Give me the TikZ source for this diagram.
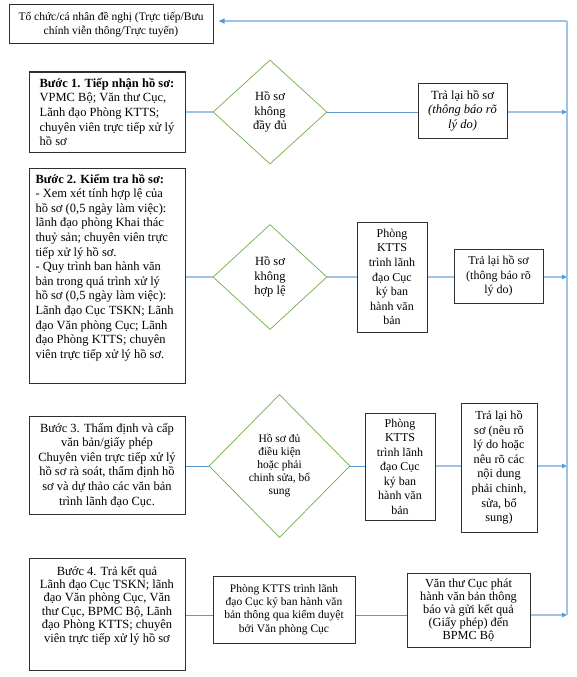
\documentclass[tikz,border=0pt]{standalone}
\usepackage{fontspec}
\setmainfont{Liberation Serif}
\usetikzlibrary{shapes.geometric,arrows.meta}
\definecolor{lblue}{HTML}{9DC3E6}
\definecolor{mblue}{HTML}{5B9BD5}
\definecolor{dgreen}{HTML}{70AD47}
\definecolor{bord}{HTML}{303030}
\newcommand{\mytopbox}[3]{\parbox[c][#1][t]{#2}{#3}}
\tikzset{
  box/.style={draw=bord, line width=1pt, fill=white, inner sep=0pt, align=center,
              font=\fontsize{12.5}{14.6}\selectfont},
  smallbox/.style={box, font=\fontsize{11.5}{13.2}\selectfont},
  dia/.style={diamond, aspect=1, draw=dgreen, line width=0.7pt, inner sep=0pt, align=center,
              font=\fontsize{12.5}{14.6}\selectfont},
  lconn/.style={draw=lblue, line width=1.4pt},
  mconn/.style={draw=mblue, line width=0.8pt},
  arr/.style={draw=lblue, line width=1.4pt, -{Triangle[length=5pt,width=4.5pt,fill=mblue,color=mblue]}},
}
\begin{document}
\begin{tikzpicture}[x=1pt,y=-1pt]
\useasboundingbox (0,0) rectangle (577,677);

% top box
\node[box, font=\fontsize{11.5}{14}\selectfont, minimum width=204, minimum height=39] (t) at (111,24.5)
  {Tổ chức/cá nhân đề nghị (Trực tiếp/Bưu\\chính viễn thông/Trực tuyến)};

% row 1
\node[box, minimum width=156, minimum height=80, align=left] (s1) at (107,112)
  {\textbf{Bước 1. Tiếp nhận hồ sơ:}\\VPMC Bộ; Văn thư Cục,\\Lãnh đạo Phòng KTTS;\\chuyên viên trực tiếp xử lý\\hồ sơ};
\node[dia, minimum width=114, minimum height=104] (d1) at (270,112) {Hồ sơ\\không\\đầy đủ};
\node[box, minimum width=89, minimum height=55] (r1) at (462.5,110.5)
  {Trả lại hồ sơ\\\textit{(thông báo rõ}\\\textit{lý do)}};
\coordinate (v1) at (567,112);

% row 2
\node[box, minimum width=156, minimum height=215] (s2) at (107,275.5)
  {\mytopbox{213pt}{143pt}{\raggedright\vspace*{5pt}%
  \textbf{Bước 2. Kiểm tra hồ sơ:}\\
  - Xem xét tính hợp lệ của\\
  hồ sơ (0,5 ngày làm việc):\\
  lãnh đạo phòng Khai thác\\
  thuỷ sản; chuyên viên trực\\
  tiếp xử lý hồ sơ.\\
  - Quy trình ban hành văn\\
  bản trong quá trình xử lý\\
  hồ sơ (0,5 ngày làm việc):\\
  Lãnh đạo Cục TSKN; Lãnh\\
  đạo Văn phòng Cục; Lãnh\\
  đạo Phòng KTTS; chuyên\\
  viên trực tiếp xử lý hồ sơ.}};
\node[dia, minimum width=114, minimum height=105] (d2) at (270,277) {Hồ sơ\\không\\hợp lệ};
\node[box, font=\fontsize{12}{14.6}\selectfont, minimum width=70, minimum height=110] (p2) at (392,277)
  {Phòng\\KTTS\\trình lãnh\\đạo Cục\\ký ban\\hành văn\\bản};
\node[box, font=\fontsize{12}{14.6}\selectfont, minimum width=89, minimum height=54] (r2) at (498.5,276)
  {Trả lại hồ sơ\\(thông báo rõ\\lý do)};
\coordinate (v2) at (567,277);

% row 3
\node[box, minimum width=156, minimum height=98] (s3) at (107,465)
  {Bước 3. Thẩm định và cấp\\văn bản/giấy phép\\Chuyên viên trực tiếp xử lý\\hồ sơ rà soát, thẩm định hồ\\sơ và dự thảo các văn bản\\trình lãnh đạo Cục.};
\node[dia, font=\fontsize{11.5}{13}\selectfont, minimum width=141, minimum height=143] (d3) at (279.5,466)
  {Hồ sơ đủ\\điều kiện\\hoặc phải\\chinh sửa, bổ\\sung};
\node[box, font=\fontsize{12}{14.5}\selectfont, minimum width=70, minimum height=107] (p3) at (400,466.5)
  {Phòng\\KTTS\\trình lãnh\\đạo Cục\\ký ban\\hành văn\\bản};
\node[box, font=\fontsize{12.3}{14.6}\selectfont, minimum width=76, minimum height=129] (r3) at (499,467.5)
  {Trả lại hồ\\sơ (nêu rõ\\lý do hoặc\\nêu rõ các\\nội dung\\phải chinh,\\sửa, bổ\\sung)};
\coordinate (v3) at (567,466);

% row 4
\node[box, minimum width=156, minimum height=112] (s4) at (107,614)
  {\mytopbox{110pt}{150pt}{\centering\vspace*{7pt}%
  \fontsize{12.5}{13.4}\selectfont
  Bước 4. Trả kết quả\\
  Lãnh đạo Cục TSKN; lãnh\\
  đạo Văn phòng Cục, Văn\\
  thư Cục, BPMC Bộ, Lãnh\\
  đạo Phòng KTTS; chuyên\\
  viên trực tiếp xử lý hồ sơ}};
\node[smallbox, minimum width=142, minimum height=67] (m4) at (284,609.5)
  {Phòng KTTS trình lãnh\\đạo Cục ký ban hành văn\\bản thông qua kiểm duyệt\\bởi Văn phòng Cục};
\node[box, font=\fontsize{12.3}{12.9}\selectfont, minimum width=123, minimum height=74] (l4) at (468.5,610)
  {Văn thư Cục phát\\hành văn bản thông\\báo và gửi kết quả\\(Giấy phép) đến\\BPMC Bộ};
\coordinate (v4) at (567,615);
\coordinate (vt) at (567,21);

% connectors row 1
\draw[lconn] (s1.east) -- (d1.west);
\draw[mconn] (d1.east) -- (r1.west |- d1.east);
\draw[arr] (r1.east |- v1) -- (v1);
% row 2
\draw[lconn] (s2.east |- d2.west) -- (d2.west);
\draw[lconn] (d2.east) -- (p2.west |- d2.east);
\draw[lconn] (p2.east |- v2) -- (r2.west |- v2);
\draw[arr] (r2.east |- v2) -- (v2);
% row 3
\draw[mconn] (s3.east |- d3.west) -- (d3.west);
\draw[mconn] (d3.east) -- (p3.west |- d3.east);
\draw[lconn] (p3.east |- v3) -- (r3.west |- v3);
\draw[arr] (r3.east |- v3) -- (v3);
% row 4
\draw[mconn] (s4.east |- v4) -- (m4.west |- v4);
\draw[mconn] (m4.east |- v4) -- (l4.west |- v4);
\draw[arr] (l4.east |- v4) -- (v4);
% return line
\draw[draw=lblue, line width=2pt] (v4) -- (vt);
\draw[draw=lblue, line width=1.4pt, -{Triangle[length=6pt,width=5pt,fill=mblue,color=mblue]}] (vt) -- ([xshift=5pt]t.east |- vt);
\end{tikzpicture}
\end{document}
